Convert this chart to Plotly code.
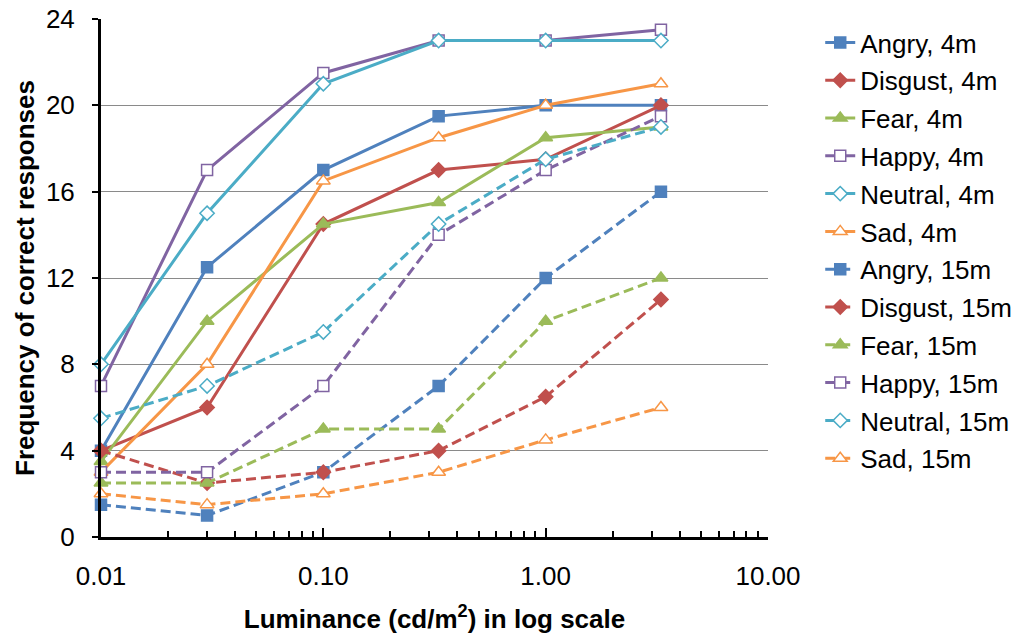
import plotly.graph_objects as go

luminance = [0.01, 0.03, 0.1, 0.33, 1.0, 3.3]

series_names = ["Angry, 4m", "Disgust, 4m", "Fear, 4m", "Happy, 4m", "Neutral, 4m", "Sad, 4m",
                "Angry, 15m", "Disgust, 15m", "Fear, 15m", "Happy, 15m", "Neutral, 15m", "Sad, 15m"]

angry_4m = [4, 12.5, 17, 19.5, 20, 20]
disgust_4m = [4, 6, 14.5, 17, 17.5, 20]
fear_4m = [3.5, 10, 14.5, 15.5, 18.5, 19]
happy_4m = [7, 17, 21.5, 23, 23, 23.5]
neutral_4m = [8, 15, 21, 23, 23, 23]
sad_4m = [3, 8, 16.5, 18.5, 20, 21]
angry_15m = [1.5, 1, 3, 7, 12, 16]
disgust_15m = [4, 2.5, 3, 4, 6.5, 11]
fear_15m = [2.5, 2.5, 5, 5, 10, 12]
happy_15m = [3, 3, 7, 14, 17, 19.5]
neutral_15m = [5.5, 7, 9.5, 14.5, 17.5, 19]
sad_15m = [2, 1.5, 2, 3, 4.5, 6]

series_values = [angry_4m, disgust_4m, fear_4m, happy_4m, neutral_4m, sad_4m,
                 angry_15m, disgust_15m, fear_15m, happy_15m, neutral_15m, sad_15m]

colors = ["#4F81BD", "#C0504D", "#9BBB59", "#8064A2", "#4BACC6", "#F79646"]
symbols = ["square", "diamond", "triangle-up", "square", "diamond", "triangle-up"]
filled = [True, True, True, False, False, False]
sizes = [11, 11, 12, 11, 11, 12]

x_tickvals = [0.01, 0.1, 1, 10]
x_ticktext = ["0.01", "0.10", "1.00", "10.00"]
minor_vals = [k * 10 ** e for e in (-2, -1, 0) for k in range(2, 10)]
y_ticks = [0, 4, 8, 12, 16, 20, 24]

FONT = "Liberation Sans, Arial, sans-serif"

fig = go.Figure()
for i, (name, vals) in enumerate(zip(series_names, series_values)):
    k = i % 6
    dashed = i >= 6
    c = colors[k]
    fig.add_trace(go.Scatter(
        x=luminance, y=vals, name=name, mode="lines+markers",
        legendgroup=name,
        cliponaxis=False,
        line=dict(color=c, width=3, dash="10px,5px" if dashed else "solid"),
        marker=dict(symbol=symbols[k], size=sizes[k],
                    color=c if filled[k] else "white",
                    line=dict(color=c, width=1.5)),
    ))

fig.update_layout(
    width=1024, height=637,
    margin=dict(l=101, r=256, t=19, b=100),
    paper_bgcolor="white", plot_bgcolor="white",
    font=dict(family=FONT, color="black", size=26),
    legend=dict(xref="container", x=0.801, y=1.0, xanchor="left", yanchor="top",
                font=dict(size=26, family=FONT), tracegroupgap=1,
                bgcolor="rgba(0,0,0,0)"),
    xaxis=dict(type="log", range=[-2, 1], tickmode="array",
               tickvals=x_tickvals, ticktext=x_ticktext,
               ticks="inside", ticklen=9, tickwidth=2, tickcolor="black",
               showline=True, linewidth=3, linecolor="black",
               showgrid=False, zeroline=False, automargin=False,
               tickfont=dict(size=26), ticklabelstandoff=14,
               minor=dict(tickvals=minor_vals, ticks="inside", ticklen=6,
                          tickwidth=1.5, tickcolor="black", showgrid=False),
               title=dict(text="<b>Luminance (cd/m<sup>2</sup>) in log scale</b>",
                          font=dict(size=26), standoff=20)),
    yaxis=dict(range=[0, 24], tickmode="array", tickvals=y_ticks,
               ticks="outside", ticklen=6, tickwidth=2, tickcolor="black",
               showline=True, linewidth=3, linecolor="black",
               showgrid=True, gridcolor="#8a8a8a", gridwidth=1.2,
               zeroline=False, automargin=False, tickfont=dict(size=26),
               ticklabelstandoff=12,
               title=dict(text="<b>Frequency of correct responses</b>",
                          font=dict(size=26), standoff=4)),
)

fig.write_html("out.html")
